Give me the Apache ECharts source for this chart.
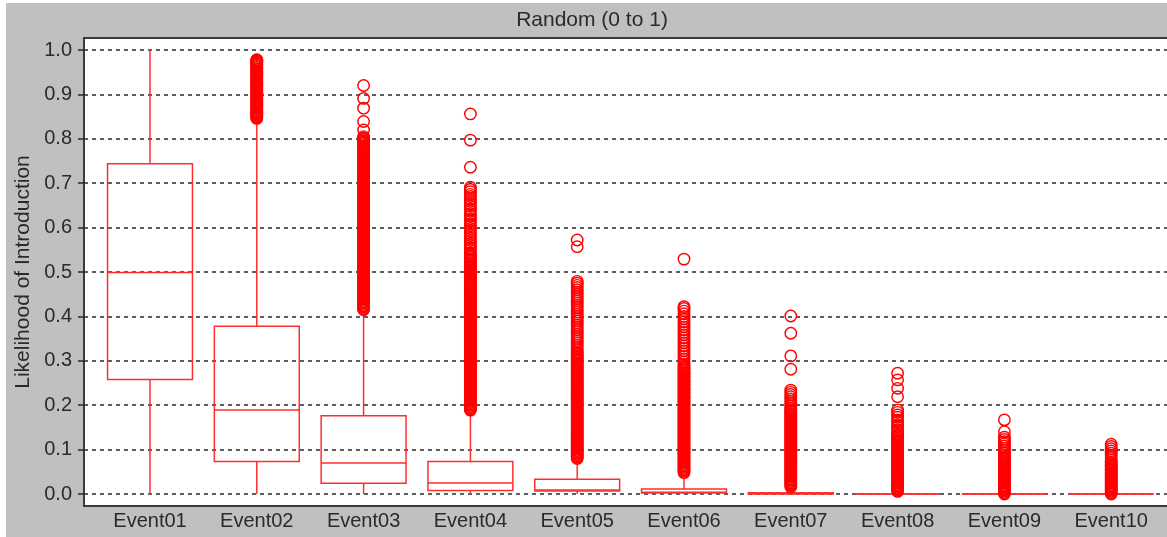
<!DOCTYPE html>
<html>
<head>
<meta charset="utf-8">
<script src="https://cdn.jsdelivr.net/npm/echarts@6/dist/echarts.min.js"></script>
<style>
  html, body { margin: 0; padding: 0; background: #ffffff; }
  #chart { width: 1167px; height: 537px; }
</style>
</head>
<body>
<div id="chart"></div>
<script>
// ---- data ----
const categories = ['Event01','Event02','Event03','Event04','Event05','Event06','Event07','Event08','Event09','Event10'];
const whiskerLow  = [0, 0, 0, 0, 0, 0, 0, 0, 0, 0];
const q1          = [0.258, 0.073, 0.024, 0.008, 0.007, 0.002, 0.000, 0, 0, 0];
const median      = [0.499, 0.189, 0.070, 0.025, 0.009, 0.004, 0.001, 0, 0, 0];
const q3          = [0.744, 0.378, 0.176, 0.073, 0.033, 0.011, 0.003, 0, 0, 0];
const whiskerHigh = [1.000, 0.840, 0.410, 0.180, 0.078, 0.035, 0.010, 0, 0, 0];

// outliers (dense runs are read as closely packed circles)
const out01 = [];
const out02 = [0.978,0.977,0.975,0.973,0.971,0.968,0.966,0.963,0.961,0.958,0.956,0.953,0.951,0.948,0.946,0.943,0.941,0.938,0.936,0.933,0.931,0.928,0.926,0.923,0.921,0.918,0.916,0.913,0.911,0.908,0.906,0.903,0.901,0.898,0.896,0.893,0.891,0.888,0.886,0.883,0.881,0.878,0.876,0.873,0.871,0.868,0.866,0.863,0.861,0.858,0.856,0.853,0.851,0.848,0.846];
const out03 = [0.920,0.891,0.869,0.839,0.820,0.805,0.802,0.799,0.796,0.793,0.790,0.787,0.784,0.781,0.778,0.775,0.772,0.769,0.766,0.763,0.760,0.757,0.754,0.751,0.748,0.745,0.742,0.739,0.736,0.733,0.730,0.727,0.724,0.721,0.718,0.715,0.712,0.709,0.706,0.703,0.700,0.697,0.694,0.691,0.688,0.685,0.682,0.679,0.676,0.673,0.670,0.667,0.664,0.661,0.658,0.655,0.652,0.649,0.646,0.643,0.640,0.637,0.634,0.631,0.628,0.625,0.622,0.619,0.616,0.613,0.610,0.607,0.604,0.601,0.598,0.595,0.592,0.589,0.586,0.583,0.580,0.577,0.574,0.571,0.568,0.565,0.562,0.559,0.556,0.553,0.550,0.547,0.544,0.541,0.538,0.535,0.532,0.529,0.526,0.523,0.520,0.517,0.514,0.511,0.508,0.505,0.502,0.499,0.496,0.493,0.490,0.487,0.484,0.481,0.478,0.475,0.472,0.469,0.466,0.463,0.460,0.457,0.454,0.451,0.448,0.445,0.442,0.439,0.436,0.433,0.430,0.427,0.424,0.421,0.418,0.415];
const out04 = [0.856,0.797,0.736,0.691,0.686,0.681,0.675,0.670,0.664,0.659,0.653,0.648,0.642,0.637,0.631,0.626,0.620,0.615,0.609,0.604,0.598,0.593,0.587,0.582,0.576,0.571,0.565,0.560,0.554,0.549,0.543,0.539,0.536,0.533,0.530,0.527,0.524,0.521,0.518,0.515,0.512,0.509,0.506,0.503,0.500,0.497,0.494,0.491,0.488,0.485,0.482,0.479,0.476,0.473,0.470,0.467,0.464,0.461,0.458,0.455,0.452,0.449,0.446,0.443,0.440,0.437,0.434,0.431,0.428,0.425,0.422,0.419,0.416,0.413,0.410,0.407,0.404,0.401,0.398,0.395,0.392,0.389,0.386,0.383,0.380,0.377,0.374,0.371,0.368,0.365,0.362,0.359,0.356,0.353,0.350,0.347,0.344,0.341,0.338,0.335,0.332,0.329,0.326,0.323,0.320,0.317,0.314,0.311,0.308,0.305,0.302,0.299,0.296,0.293,0.290,0.287,0.284,0.281,0.278,0.275,0.272,0.269,0.266,0.263,0.260,0.257,0.254,0.251,0.248,0.245,0.242,0.239,0.236,0.233,0.230,0.227,0.224,0.221,0.218,0.215,0.212,0.209,0.206,0.203,0.200,0.197,0.194,0.191,0.189];
const out05 = [0.572,0.557,0.479,0.475,0.470,0.465,0.460,0.455,0.450,0.445,0.440,0.435,0.430,0.425,0.420,0.415,0.410,0.405,0.400,0.395,0.390,0.385,0.380,0.375,0.370,0.365,0.360,0.355,0.350,0.345,0.340,0.335,0.330,0.325,0.320,0.317,0.314,0.311,0.308,0.305,0.302,0.299,0.296,0.293,0.290,0.287,0.284,0.281,0.278,0.275,0.272,0.269,0.266,0.263,0.260,0.257,0.254,0.251,0.248,0.245,0.242,0.239,0.236,0.233,0.230,0.227,0.224,0.221,0.218,0.215,0.212,0.209,0.206,0.203,0.200,0.197,0.194,0.191,0.188,0.185,0.182,0.179,0.176,0.173,0.170,0.167,0.164,0.161,0.158,0.155,0.152,0.149,0.146,0.143,0.140,0.137,0.134,0.131,0.128,0.125,0.122,0.119,0.116,0.113,0.110,0.107,0.104,0.101,0.098,0.095,0.092,0.089,0.086,0.083,0.080];
const out06 = [0.529,0.422,0.418,0.412,0.406,0.400,0.394,0.388,0.382,0.376,0.370,0.364,0.358,0.352,0.346,0.340,0.334,0.328,0.322,0.316,0.310,0.304,0.298,0.292,0.288,0.285,0.282,0.279,0.276,0.273,0.270,0.267,0.264,0.261,0.258,0.255,0.252,0.249,0.246,0.243,0.240,0.237,0.234,0.231,0.228,0.225,0.222,0.219,0.216,0.213,0.210,0.207,0.204,0.201,0.198,0.195,0.192,0.189,0.186,0.183,0.180,0.177,0.174,0.171,0.168,0.165,0.162,0.159,0.156,0.153,0.150,0.147,0.144,0.141,0.138,0.135,0.132,0.129,0.126,0.123,0.120,0.117,0.114,0.111,0.108,0.105,0.102,0.099,0.096,0.093,0.090,0.087,0.084,0.081,0.078,0.075,0.072,0.069,0.066,0.063,0.060,0.057,0.054,0.051,0.048];
const out07 = [0.401,0.362,0.311,0.281,0.234,0.229,0.224,0.219,0.214,0.209,0.204,0.199,0.194,0.190,0.187,0.184,0.181,0.178,0.175,0.172,0.169,0.166,0.163,0.160,0.157,0.154,0.151,0.148,0.145,0.142,0.139,0.136,0.133,0.130,0.127,0.124,0.121,0.118,0.115,0.112,0.109,0.106,0.103,0.100,0.097,0.094,0.091,0.088,0.085,0.082,0.079,0.076,0.073,0.070,0.067,0.064,0.061,0.058,0.055,0.052,0.049,0.046,0.043,0.040,0.037,0.034,0.031,0.028,0.025,0.022,0.019,0.016];
const out08 = [0.272,0.257,0.238,0.219,0.189,0.184,0.178,0.173,0.167,0.162,0.156,0.151,0.145,0.140,0.135,0.132,0.129,0.126,0.123,0.120,0.117,0.114,0.111,0.108,0.105,0.102,0.099,0.096,0.093,0.090,0.087,0.084,0.081,0.078,0.075,0.072,0.069,0.066,0.063,0.060,0.057,0.054,0.051,0.048,0.045,0.042,0.039,0.036,0.033,0.030,0.027,0.024,0.021,0.018,0.015,0.012,0.009,0.006];
const out09 = [0.167,0.140,0.128,0.123,0.118,0.113,0.108,0.103,0.098,0.093,0.088,0.084,0.081,0.078,0.075,0.072,0.069,0.066,0.063,0.060,0.057,0.054,0.051,0.048,0.045,0.042,0.039,0.036,0.033,0.030,0.027,0.024,0.021,0.018,0.015,0.012,0.009,0.006,0.003,0.000];
const out10 = [0.112,0.107,0.102,0.097,0.092,0.087,0.082,0.077,0.072,0.069,0.066,0.063,0.060,0.057,0.054,0.051,0.048,0.045,0.042,0.039,0.036,0.033,0.030,0.027,0.024,0.021,0.018,0.015,0.012,0.009,0.006,0.003,0.000];

const titleText = 'Random (0 to 1)';
const yAxisName = 'Likelihood of Introduction';

// ---- build library data ----
const outliers = [out01,out02,out03,out04,out05,out06,out07,out08,out09,out10];
const boxData = categories.map((c, i) => [i, whiskerLow[i], q1[i], median[i], q3[i], whiskerHigh[i]]);
const outlierData = [];
outliers.forEach((arr, i) => arr.forEach(v => outlierData.push([i, v])));

const RED_BOX = '#ff2e2e';
const RED = '#ff0000';
const TEXT = '#2a2a2a';
const FONT = 'Liberation Sans, Arial, sans-serif';

function renderBox(params, api) {
  const x = api.value(0);
  const pLow = api.coord([x, api.value(1)]);
  const pQ1 = api.coord([x, api.value(2)]);
  const pMed = api.coord([x, api.value(3)]);
  const pQ3 = api.coord([x, api.value(4)]);
  const pHigh = api.coord([x, api.value(5)]);
  const bw = api.size([1, 0])[0] * 0.795;
  const cx = pQ1[0];
  const style = { stroke: RED_BOX, lineWidth: 1.5, fill: null };
  return {
    type: 'group',
    children: [
      { type: 'line', shape: { x1: cx, y1: pHigh[1], x2: cx, y2: pQ3[1] }, style },
      { type: 'line', shape: { x1: cx, y1: pQ1[1], x2: cx, y2: pLow[1] }, style },
      { type: 'rect', shape: { x: cx - bw / 2, y: pQ3[1], width: bw, height: pQ1[1] - pQ3[1] }, style },
      { type: 'line', shape: { x1: cx - bw / 2, y1: pMed[1], x2: cx + bw / 2, y2: pMed[1] }, style }
    ]
  };
}

const chart = echarts.init(document.getElementById('chart'), null, { renderer: 'canvas' });
chart.setOption({
  backgroundColor: '#ffffff',
  animation: false,
  graphic: {
    elements: [
      { type: 'rect', z: -10, shape: { x: 6, y: 3, width: 1161, height: 534 }, style: { fill: '#c0c0c0' } },
      { type: 'rect', z: -9, shape: { x: 84, y: 38, width: 1083, height: 468 }, style: { fill: '#ffffff' } },
      { type: 'line', z: -8, shape: { x1: 84, y1: 38, x2: 1167, y2: 38 }, style: { stroke: '#3a3a3a', lineWidth: 2 } },
      { type: 'line', z: -8, shape: { x1: 84, y1: 37, x2: 84, y2: 507 }, style: { stroke: '#3a3a3a', lineWidth: 2 } },
      { type: 'line', z: -8, shape: { x1: 84, y1: 506, x2: 1167, y2: 506 }, style: { stroke: '#3a3a3a', lineWidth: 2 } },
      { type: 'text', z: 5, x: 592, y: 20, style: { text: titleText, fontSize: 21, fontFamily: FONT, fill: TEXT, align: 'center', verticalAlign: 'middle' } }
    ]
  },
  grid: [
    { left: 84, right: 0, top: 50, bottom: 43 },
    { left: 96.6, right: 2.4, top: 50, bottom: 43 }
  ],
  xAxis: [
    { type: 'value', gridIndex: 0, min: 0, max: 1, show: false },
    { type: 'category', gridIndex: 1, data: categories, boundaryGap: true,
      axisLine: { show: false }, axisTick: { show: false }, splitLine: { show: false },
      axisLabel: { color: TEXT, fontSize: 20, fontFamily: FONT, margin: 17, interval: 0 } }
  ],
  yAxis: [
    { type: 'value', gridIndex: 0, min: 0, max: 1, interval: 0.1, z: 1,
      name: yAxisName, nameLocation: 'middle', nameGap: 47, nameRotate: 90,
      nameTextStyle: { color: TEXT, fontSize: 21, fontFamily: FONT },
      axisLine: { show: false },
      axisTick: { show: true, length: 6, lineStyle: { color: '#2a2a2a', width: 1.5 } },
      axisLabel: { color: TEXT, fontSize: 20, fontFamily: FONT, margin: 12, formatter: v => v.toFixed(1) },
      splitLine: { show: true, lineStyle: { color: '#2a2a2a', width: 1.5, type: [4, 4] } } },
    { type: 'value', gridIndex: 1, min: 0, max: 1, show: false }
  ],
  series: [
    { type: 'custom', name: 'box', xAxisIndex: 1, yAxisIndex: 1, data: boxData,
      encode: { x: 0, y: [1, 2, 3, 4, 5] }, renderItem: renderBox, z: 3, clip: false },
    { type: 'scatter', name: 'outliers', xAxisIndex: 1, yAxisIndex: 1, data: outlierData,
      symbol: 'circle', symbolSize: 11.4, clip: false, z: 4, silent: true, large: false,
      itemStyle: { color: 'rgba(255,0,0,0)', borderColor: RED, borderWidth: 1.45, opacity: 1 } }
  ]
});
</script>
</body>
</html>
